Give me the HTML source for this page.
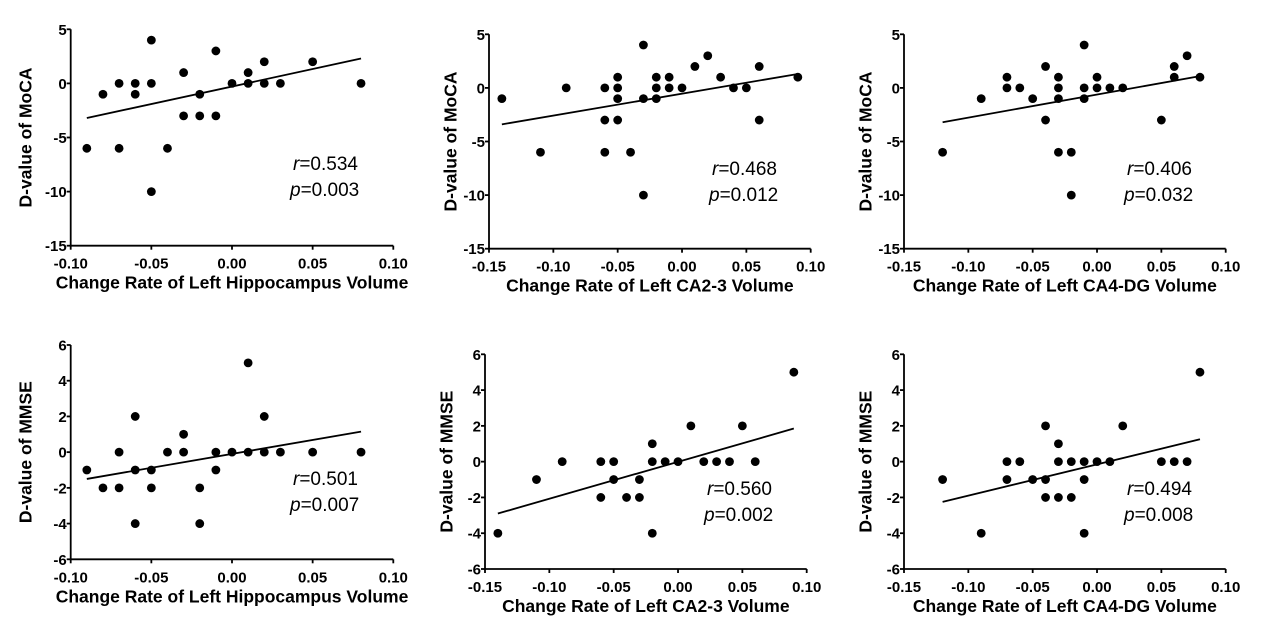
<!DOCTYPE html>
<html><head><meta charset="utf-8"><style>
html,body{margin:0;padding:0;background:#fff;}
svg{display:block;font-family:"Liberation Sans",Arial,sans-serif;}
</style></head><body>
<svg id="fig" width="1267" height="635" viewBox="0 0 1267 635"></svg>
<script>
const p1x=[-0.09,-0.08,-0.07,-0.07,-0.06,-0.06,-0.05,-0.05,-0.05,-0.04,-0.03,-0.03,-0.02,-0.02,-0.01,-0.01,0,0.01,0.01,0.02,0.02,0.03,0.05,0.08];
const p1y=[-6,-1,0,-6,0,-1,4,0,-10,-6,1,-3,-1,-3,3,-3,0,1,0,2,0,0,2,0];
const p2x=[-0.14,-0.11,-0.09,-0.06,-0.06,-0.06,-0.05,-0.05,-0.05,-0.05,-0.04,-0.03,-0.03,-0.03,-0.02,-0.02,-0.02,-0.01,-0.01,0,0.01,0.02,0.03,0.04,0.05,0.06,0.06,0.09];
const p2y=[-1,-6,0,0,-3,-6,1,0,-1,-3,-6,4,-1,-10,1,0,-1,1,0,0,2,3,1,0,0,2,-3,1];
const p3x=[-0.12,-0.09,-0.07,-0.07,-0.06,-0.05,-0.04,-0.04,-0.03,-0.03,-0.03,-0.03,-0.02,-0.02,-0.01,-0.01,-0.01,0,0,0.01,0.02,0.05,0.06,0.06,0.07,0.08];
const p3y=[-6,-1,1,0,0,-1,2,-3,1,0,-1,-6,-6,-10,4,0,-1,1,0,0,0,-3,2,1,3,1];
const p4x=[-0.09,-0.08,-0.07,-0.07,-0.06,-0.06,-0.06,-0.05,-0.05,-0.04,-0.03,-0.03,-0.02,-0.02,-0.01,-0.01,0,0.01,0.01,0.02,0.02,0.03,0.05,0.08];
const p4y=[-1,-2,0,-2,2,-1,-4,-1,-2,0,1,0,-2,-4,0,-1,0,5,0,2,0,0,0,0];
const p5x=[-0.14,-0.11,-0.09,-0.06,-0.06,-0.05,-0.05,-0.04,-0.03,-0.03,-0.02,-0.02,-0.02,-0.01,0,0.01,0.02,0.03,0.04,0.05,0.06,0.09];
const p5y=[-4,-1,0,0,-2,0,-1,-2,-1,-2,1,0,-4,0,0,2,0,0,0,2,0,5];
const p6x=[-0.12,-0.09,-0.07,-0.07,-0.06,-0.05,-0.04,-0.04,-0.04,-0.03,-0.03,-0.03,-0.02,-0.02,-0.01,-0.01,-0.01,0,0.01,0.02,0.05,0.06,0.07,0.08];
const p6y=[-1,-4,0,-1,0,-1,2,-1,-2,1,0,-2,0,-2,0,-1,-4,0,0,2,0,0,0,5];
const fitX=[[-0.09,0.08],[-0.14,0.09],[-0.12,0.08],[-0.09,0.08],[-0.14,0.09],[-0.12,0.08]];
const fitY=[[-3.2,2.3],[-3.4,1.3],[-3.2,1.1],[-1.5,1.15],[-2.9,1.85],[-2.25,1.25]];
const xTicksA=["-0.10","-0.05","0.00","0.05","0.10"];
const xTicksB=["-0.15","-0.10","-0.05","0.00","0.05","0.10"];
const yTicksTop=[5,0,-5,-10,-15];
const yTicksBot=[6,4,2,0,-2,-4,-6];
const rVals=["0.534","0.468","0.406","0.501","0.560","0.494"];
const pVals=["0.003","0.012","0.032","0.007","0.002","0.008"];
const xTitles=["Change Rate of Left Hippocampus Volume","Change Rate of Left CA2-3 Volume","Change Rate of Left CA4-DG Volume"];

const NS="http://www.w3.org/2000/svg";
const svg=document.getElementById('fig');
function mk(tag,attrs,parent,text){const e=document.createElementNS(NS,tag);for(const k in attrs)e.setAttribute(k,attrs[k]);if(text!==undefined)e.textContent=text;(parent||svg).appendChild(e);return e;}

const panels=[
 {xs:p1x,ys:p1y,ax:70.7,ay0:29.3,ay1:245.7,xr:393.3,xmin:-0.10,xmax:0.10,ymin:-15,ymax:5,xt:xTicksA,yt:yTicksTop,yl:"D-value of MoCA",tx:27,xtitle:xTitles[0],rx:293,ry:170},
 {xs:p2x,ys:p2y,ax:489,ay0:34.3,ay1:248.7,xr:810.7,xmin:-0.15,xmax:0.10,ymin:-15,ymax:5,xt:xTicksB,yt:yTicksTop,yl:"D-value of MoCA",tx:452,xtitle:xTitles[1],rx:712,ry:175},
 {xs:p3x,ys:p3y,ax:904,ay0:34.3,ay1:248.7,xr:1225.7,xmin:-0.15,xmax:0.10,ymin:-15,ymax:5,xt:xTicksB,yt:yTicksTop,yl:"D-value of MoCA",tx:867,xtitle:xTitles[2],rx:1127,ry:175},
 {xs:p4x,ys:p4y,ax:70.7,ay0:345,ay1:559.3,xr:393.3,xmin:-0.10,xmax:0.10,ymin:-6,ymax:6,xt:xTicksA,yt:yTicksBot,yl:"D-value of MMSE",tx:27,xtitle:xTitles[0],rx:293,ry:485},
 {xs:p5x,ys:p5y,ax:485,ay0:354.3,ay1:569,xr:806.7,xmin:-0.15,xmax:0.10,ymin:-6,ymax:6,xt:xTicksB,yt:yTicksBot,yl:"D-value of MMSE",tx:448,xtitle:xTitles[1],rx:707,ry:495},
 {xs:p6x,ys:p6y,ax:904,ay0:354.3,ay1:569,xr:1225.7,xmin:-0.15,xmax:0.10,ymin:-6,ymax:6,xt:xTicksB,yt:yTicksBot,yl:"D-value of MMSE",tx:867,xtitle:xTitles[2],rx:1127,ry:495}
];

panels.forEach((P,i)=>{
  const g=mk('g',{});
  
  
  const sx=v=>P.ax+(v-P.xmin)/(P.xmax-P.xmin)*(P.xr-P.ax);
  const sy=v=>P.ay1-(v-P.ymin)/(P.ymax-P.ymin)*(P.ay1-P.ay0);
  const ya=mk('line',{x1:P.ax,y1:P.ay0,x2:P.ax,y2:P.ay1,stroke:'#000','stroke-width':1.8},g);
  
  
  const xa=mk('line',{x1:P.ax,y1:P.ay1,x2:P.xr,y2:P.ay1,stroke:'#000','stroke-width':1.8},g);
  
  
  P.yt.forEach(t=>{
    const y=sy(t);
    mk('line',{x1:P.ax-4,y1:y,x2:P.ax,y2:y,stroke:'#000','stroke-width':1.8},g);
    const lb=mk('text',{x:P.ax-4,y:y+5.5,'text-anchor':'end','font-size':15,'font-weight':'bold'},g,String(t));
    
    
  });
  P.xt.forEach(t=>{
    const x=sx(parseFloat(t));
    mk('line',{x1:x,y1:P.ay1,x2:x,y2:P.ay1+4,stroke:'#000','stroke-width':1.8},g);
    const lb=mk('text',{x:x,y:P.ay1+23,'text-anchor':'middle','font-size':15,'font-weight':'bold'},g,t);
    
    
  });
  const xt=mk('text',{x:(P.ax+P.xr)/2,y:P.ay1+43,'text-anchor':'middle','font-size':17.5,'font-weight':'bold'},g,P.xtitle);
  
  
  const yc=(P.ay0+P.ay1)/2;
  const yt=mk('text',{x:P.tx,y:yc,'text-anchor':'middle','font-size':17.5,'font-weight':'bold',transform:`rotate(-90 ${P.tx} ${yc})`,'dominant-baseline':'middle'},g,P.yl);
  
  
  const fl=mk('line',{x1:sx(fitX[i][0]),y1:sy(fitY[i][0]),x2:sx(fitX[i][1]),y2:sy(fitY[i][1]),stroke:'#000','stroke-width':1.8},g);
  
  
  P.xs.forEach((v,k)=>{
    const c=mk('circle',{cx:sx(v),cy:sy(P.ys[k]),r:4.4,fill:'#000'},g);
    
    
  });
  const rt=mk('text',{x:P.rx,y:P.ry,'font-size':19},g);
  
  
  mk('tspan',{'font-style':'italic'},rt,'r');
  mk('tspan',{},rt,'='+rVals[i]);
  const pt=mk('text',{x:P.rx-3,y:P.ry+26,'font-size':19},g);
  
  
  mk('tspan',{'font-style':'italic'},pt,'p');
  mk('tspan',{},pt,'='+pVals[i]);
});
</script>
</body></html>
